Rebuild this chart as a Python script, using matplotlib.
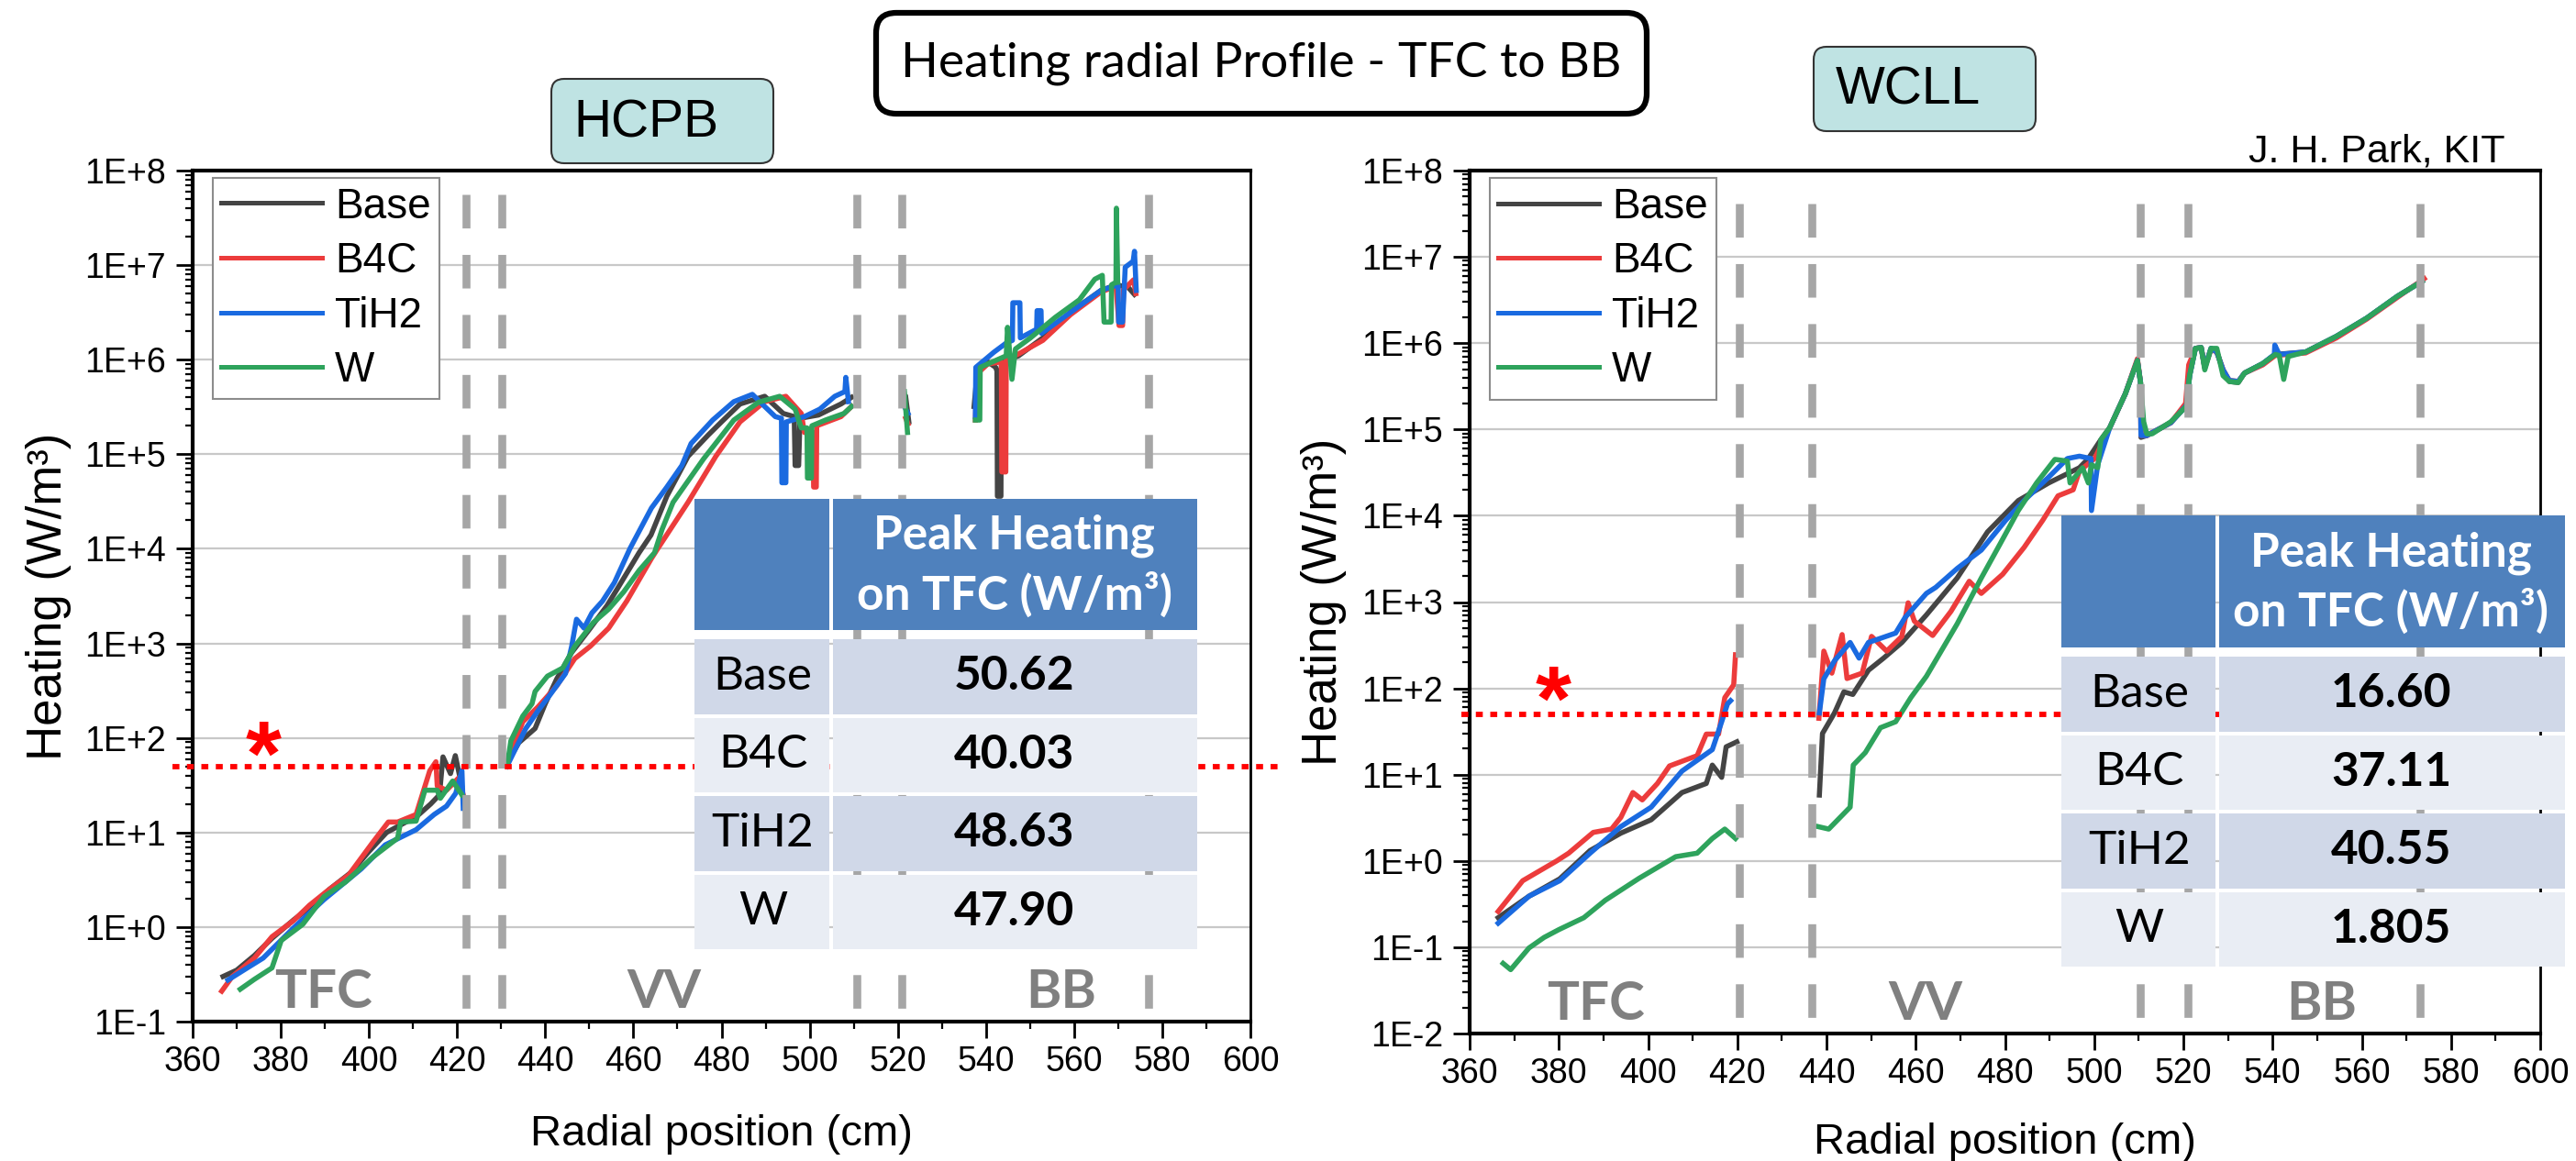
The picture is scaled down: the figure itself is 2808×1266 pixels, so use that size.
# -*- coding: utf-8 -*-
"""
Heating radial profile - TFC to BB (HCPB vs WCLL), re-drawn with matplotlib
"""

#%% packages
import numpy as np
import matplotlib
matplotlib.use("Agg")
import matplotlib.pyplot as plt
import matplotlib.transforms as mtransforms
from matplotlib.patches import Rectangle, FancyBboxPatch
from matplotlib.ticker import MultipleLocator, LogLocator, NullFormatter, FuncFormatter

nan = np.nan

# %% HCPB data (radial position cm, heating W/m3), NaN = gap between zones
hcpb_base_r = [366.9, 370, 374, 378, 383, 387, 391, 396, 400, 404, 408, 411, 414, 416, 416.8, 418.5, 419.6, 421, nan,
               431.5, 434, 437.7, 440, 442.6, 446, 450, 454, 456.4, 461.3, 464, 467.6, 472.4, 477, 480, 484.2, 489.8,
               494, 496.5, 496.7, 497.5, 497.8, 502, 507.1, 509.5, nan,
               521.8, 522.5, nan,
               537.3, 538, 540.4, 542.2, 542.5, 542.6, 543.4, 543.5, 547.4, 552.9, 559.2, 566.1, 569.6, 572.3, 573.7]
hcpb_base_q = [0.30, 0.35, 0.50, 0.76, 1.2, 1.66, 2.5, 3.8, 6.3, 10, 12.6, 15, 20, 25, 63, 42, 65, 32, nan,
               56, 89, 126, 230, 420, 800, 1400, 2500, 3800, 9100, 1.4e4, 3.6e4, 9.5e4, 1.6e5, 2.2e5, 3.4e5, 4.1e5,
               2.7e5, 2.5e5, 7.6e4, 7.6e4, 2.4e5, 2.6e5, 3.4e5, 4.0e5, nan,
               4.0e5, 2.2e5, nan,
               3.2e5, 7.1e5, 9.5e5, 8.3e5, 7.6e5, 3.6e4, 3.6e4, 9.5e5, 1.1e6, 1.7e6, 3.2e6, 5.4e6, 6.2e6, 5.8e6, 4.9e6]

hcpb_b4c_r = [366.6, 369, 374, 378, 382.9, 386.5, 390.5, 395.4, 400.9, 404.4, 406.5, 410.7, 413.8, 415.2, 415.5, 417.6,
              420.4, 421.4, nan,
              431.5, 434.9, 438.4, 442.6, 446.7, 450.2, 454.4, 458.5, 464.1, 465.5, 472.4, 478.7, 484.2, 489.8, 494.6,
              498.1, 498.8, 500.8, 500.9, 501.5, 501.6, 507.1, 509.5, nan,
              521.8, 522.3, nan,
              537.6, 538, 540.4, 543.5, 543.6, 544.5, 544.6, 547.4, 552.9, 559.2, 566.1, 569.5, 570.2, 571, 571.2, 573.5, 574]
hcpb_b4c_q = [0.21, 0.30, 0.47, 0.79, 1.17, 1.7, 2.4, 3.55, 7.9, 12.9, 12.9, 15.5, 45, 56, 31, 28, 38, 25, nan,
              56, 148, 214, 355, 690, 930, 1450, 2800, 7900, 1.0e4, 3.1e4, 9.5e4, 2.2e5, 3.6e5, 4.1e5,
              2.7e5, 1.7e5, 1.7e5, 4.5e4, 4.5e4, 2.0e5, 2.5e5, 3.2e5, nan,
              2.4e5, 2.1e5, nan,
              2.3e5, 7.1e5, 9.0e5, 9.5e5, 6.5e4, 6.5e4, 1.0e6, 1.15e6, 1.6e6, 3.0e6, 5.2e6, 6.0e6, 2.3e6, 2.3e6, 5.5e6, 7.0e6, 5.0e6]

hcpb_tih2_r = [368, 372, 376, 382.9, 389.8, 398.2, 403.7, 410.7, 414.8, 417.6, 419.7, 421.1, 421.4, nan,
               431.3, 433.5, 435.6, 438.4, 441.2, 444.6, 446, 447.1, 448.8, 450.6, 453, 455.7, 459.2, 464.1, 467.6, 471,
               473.1, 478, 482.8, 487, 489.8, 492.2, 493.6, 493.7, 494.6, 494.7, 498.8, 502.3, 505.7, 508, 508.2, 508.8, nan,
               521.8, 522.3, nan,
               537.6, 537.7, 541.8, 544.6, 546, 546.1, 547.7, 547.8, 551.5, 551.6, 552.5, 552.6, 566.1, 570, 570.1, 571,
               571.6, 573.4, 573.7, 574.1]
hcpb_tih2_q = [0.275, 0.36, 0.47, 0.98, 1.95, 4.1, 7.4, 10.7, 15.5, 19, 26, 45, 18, nan,
               50, 81, 126, 195, 290, 480, 930, 1800, 1450, 2100, 2800, 4400, 1.0e4, 2.7e4, 4.5e4, 7.6e4,
               1.3e5, 2.3e5, 3.6e5, 4.3e5, 3.2e5, 2.5e5, 2.4e5, 5.0e4, 5.0e4, 2.2e5, 2.5e5, 3.0e5, 4.1e5, 4.6e5, 6.5e5, 3.6e5, nan,
               3.0e5, 2.7e5, nan,
               2.5e5, 8.3e5, 1.2e6, 1.5e6, 1.6e6, 4.0e6, 4.0e6, 1.7e6, 2.1e6, 3.3e6, 3.3e6, 1.9e6, 5.4e6, 6.2e6, 2.5e6, 2.5e6,
               9.5e6, 1.1e7, 1.4e7, 5.4e6]

hcpb_w_r = [370.8, 374, 378, 380.1, 385, 389.8, 394.7, 400.9, 406.5, 407.2, 410.7, 412.7, 415.5, 416.2, 419, 421.1, nan,
            431.5, 432.2, 434.9, 437, 437.7, 440.5, 444, 446.7, 450.9, 454.4, 457.8, 461.3, 464.8, 466.5, 469, 475.9,
            482.8, 488.4, 493.2, 496.7, 498.1, 499.4, 499.5, 500.4, 500.5, 503.6, 507.8, 509.5, nan,
            521.5, 522.2, nan,
            537.6, 538.6, 538.7, 544.6, 544.9, 545.9, 546.7, 550.1, 555.7, 561.2, 564.7, 566.4, 566.8, 568.4, 568.5,
            569.5, 569.6, 569.9]
hcpb_w_q = [0.22, 0.28, 0.37, 0.72, 1.07, 2.1, 3.0, 5.5, 8.7, 12.9, 13.2, 28, 28, 23, 35, 25, nan,
            56, 93, 170, 230, 310, 450, 550, 930, 1660, 2300, 3500, 5900, 9100, 1.6e4, 3.1e4, 8.9e4,
            2.3e5, 3.55e5, 4.1e5, 3.0e5, 1.9e5, 1.9e5, 5.6e4, 5.6e4, 2.0e5, 2.3e5, 2.7e5, 3.2e5, nan,
            4.6e5, 1.7e5, nan,
            2.3e5, 2.3e5, 8.3e5, 1.1e6, 2.2e6, 6.2e5, 1.3e6, 1.7e6, 2.8e6, 4.3e6, 7.1e6, 7.8e6, 2.5e6, 2.5e6, 6.2e6,
            6.6e6, 4.0e7, 6.6e6]

# %% WCLL data
wcll_base_r = [366.4, 373.3, 380.2, 387, 393.9, 400.7, 407.6, 413.05, 414.4, 416.5, 417.5, 419.9, nan,
               438.4, 439.1, 441.8, 443.9, 445.9, 449.4, 452.8, 456.9, 462.4, 469.3, 476.1, 483, 489.8, 496.7, 498.7,
               501.5, 503.5, 507, 509.7, 510.4, 510.5, 511.8, 517.2, 520.7, 521.4, 522.7, 524, 524.8, 526.2, 527.5,
               528.9, 530.3, 532.3, 533.7, 537.8, 540.6, 547.4, 554.3, 561.1, 568, 573.5]
wcll_base_q = [0.22, 0.39, 0.62, 1.32, 2.1, 3.0, 6.2, 7.9, 12.9, 9.3, 21, 24, nan,
               5.8, 30, 52, 91, 85, 162, 224, 340, 710, 1900, 6500, 1.5e4, 2.4e4, 3.6e4, 4.6e4,
               7.6e4, 1.05e5, 2.6e5, 6.3e5, 3.5e5, 8.1e4, 8.5e4, 1.2e5, 1.9e5, 4.2e5, 8.7e5, 8.9e5, 5.2e5, 8.7e5, 7.9e5,
               4.9e5, 3.6e5, 3.5e5, 4.5e5, 5.8e5, 7.4e5, 7.9e5, 1.2e6, 1.95e6, 3.5e6, 5.2e6]

wcll_b4c_r = [366.4, 371.9, 379.5, 382.2, 387.7, 391.8, 393.9, 396.6, 398.7, 402.1, 404.8, 411, 413.05, 415.8, 417.2,
              419.2, 419.6, nan,
              438.3, 439.4, 441.2, 443.5, 444.6, 448, 450.1, 453.5, 456.9, 458.3, 459.7, 463.8, 467.9, 472, 474.7,
              479.5, 484.3, 488.5, 491.9, 495.3, 496.7, 500.1, 503.5, 507, 509.7, 510.4, 510.5, 511.8, 517.2, 520.5,
              521.2, 522.7, 524, 524.8, 526.2, 527.5, 528.9, 530.3, 532.3, 533.7, 537.8, 540.6, 547.4, 554.3, 561.1,
              568, 574]
wcll_b4c_q = [0.26, 0.59, 1.0, 1.23, 2.14, 2.34, 3.2, 6.2, 5.1, 7.9, 12.6, 16.6, 29.5, 29.5, 78, 110, 245, nan,
              45, 270, 150, 420, 130, 150, 400, 270, 400, 980, 600, 410, 780, 1740, 1260,
              2100, 4300, 8900, 1.7e4, 2.0e4, 3.3e4, 4.6e4, 1.05e5, 2.6e5, 6.6e5, 3.5e5, 8.5e4, 8.5e4, 1.2e5, 2.0e5,
              5.6e5, 8.7e5, 8.9e5, 5.2e5, 8.5e5, 7.9e5, 4.9e5, 3.7e5, 3.6e5, 4.5e5, 5.6e5, 7.2e5, 7.7e5, 1.15e6, 1.9e6,
              3.4e6, 5.6e6]

wcll_tih2_r = [366.4, 373.3, 380.2, 387, 393.9, 400.7, 407.6, 414.4, 416.5, 417.8, 418.5, nan,
               438.4, 439.4, 441.8, 445.3, 447.3, 449.4, 455.5, 457.6, 462.4, 464.5, 469.3, 474.7, 480.2, 484.3, 489.8,
               494, 496.7, 499.3, 499.4, 500.8, 503.5, 507, 509.7, 510.4, 510.5, 511.8, 517.2, 520.7, 521.4, 522.7, 524,
               524.8, 526.2, 527.5, 528.9, 530.3, 532.3, 533.7, 537.8, 540.4, 540.5, 541.5, 547.4, 554.3, 561.1, 568,
               573.5]
wcll_tih2_q = [0.19, 0.39, 0.59, 1.23, 2.5, 4.2, 11, 19.5, 41, 66, 72, nan,
               52, 129, 209, 340, 224, 340, 437, 660, 1260, 1480, 2450, 4000, 8900, 1.5e4, 2.8e4,
               4.6e4, 4.9e4, 4.6e4, 1.15e4, 3.9e4, 1.05e5, 2.6e5, 6.3e5, 3.5e5, 8.5e4, 8.5e4, 1.2e5, 1.9e5, 4.2e5, 8.7e5, 8.9e5,
               5.2e5, 8.7e5, 7.9e5, 4.9e5, 3.7e5, 3.6e5, 4.5e5, 5.8e5, 7.4e5, 9.5e5, 7.4e5, 7.9e5, 1.2e6, 1.95e6, 3.5e6,
               5.2e6]

wcll_w_r = [367.5, 369.2, 373.3, 376.7, 380, 385.6, 390.4, 398, 406.2, 411, 414.4, 417.2, 419.6, nan,
            438.1, 440.5, 445.3, 446, 448.7, 452.1, 455.5, 458.9, 462.4, 469.3, 474.7, 478.9, 483, 487.1, 491.2, 494,
            494.6, 497.4, 498.7, 499.4, 500.8, 501.5, 503.5, 507, 509.7, 510.4, 511.1, 511.8, 513, 517.2, 520.7, 521.4,
            522.7, 524, 524.8, 526.2, 527.5, 528.9, 530.3, 532.3, 533.7, 537.8, 540.6, 541.5, 542.5, 543.5, 547.4,
            554.3, 561.1, 568, 573.5]
wcll_w_q = [0.065, 0.055, 0.098, 0.13, 0.16, 0.22, 0.35, 0.63, 1.12, 1.23, 1.82, 2.34, 1.82, nan,
            2.5, 2.34, 4.2, 12.9, 18, 35, 41, 78, 138, 560, 1900, 4700, 1.15e4, 2.4e4, 4.5e4, 4.3e4,
            2.4e4, 3.6e4, 2.4e4, 3.9e4, 3.6e4, 7.6e4, 1.05e5, 2.6e5, 6.3e5, 3.5e5, 1.23e5, 8.9e4, 8.9e4, 1.23e5, 1.86e5, 4.2e5,
            8.7e5, 8.9e5, 4.9e5, 8.7e5, 8.7e5, 4.2e5, 3.6e5, 3.5e5, 4.5e5, 5.8e5, 7.4e5, 7.2e5, 3.8e5, 7.0e5, 7.9e5,
            1.2e6, 1.95e6, 3.5e6, 5.2e6]

# %% labels, zone borders, table values
cases = ["Base", "B4C", "TiH2", "W"]
colors = ["#444444", "#ec3c3c", "#1a6ae0", "#2ea35c"]
hcpb_borders = [422, 430.2, 510.8, 521, 576.8]
wcll_borders = [420.4, 436.7, 510.4, 521, 573]
zones = ["TFC", "VV", "BB"]
hcpb_zone_x = [389.6, 467, 557]
wcll_zone_x = [388.2, 462.2, 551]
limit = 50  # W/m3 limit line
hcpb_peak = ["50.62", "40.03", "48.63", "47.90"]
wcll_peak = ["16.60", "37.11", "40.55", "1.805"]

# %% figure
plt.rcParams["font.family"] = ["Liberation Sans", "DejaVu Sans"]
W, H = 2808, 1266
fig = plt.figure(figsize=(W / 100, H / 100), dpi=100)

ax1 = fig.add_axes([210 / W, (H - 1114) / H, 1153 / W, 928 / H])
ax2 = fig.add_axes([1602 / W, (H - 1127) / H, 1167 / W, 941 / H])


def setup(ax, ymin, series, borders, dash_top, zone_x, star, line_x, xlab_y):
    for (r, q), lab, c in zip(series, cases, colors):
        ax.plot(r, q, color=c, lw=4, label=lab, zorder=2)
    ax.set_yscale("log")
    ax.set_xlim(360, 600)
    ax.set_ylim(ymin, 1e8)
    ax.xaxis.set_major_locator(MultipleLocator(20))
    ax.xaxis.set_minor_locator(MultipleLocator(10))
    ax.yaxis.set_major_locator(LogLocator(base=10, numticks=20))
    ax.yaxis.set_minor_locator(LogLocator(base=10, subs=np.arange(2, 10), numticks=20))
    ax.yaxis.set_minor_formatter(NullFormatter())
    ax.yaxis.set_major_formatter(FuncFormatter(lambda v, p: "1E%+d" % int(round(np.log10(v)))))
    ax.tick_params(axis="both", which="major", direction="out", length=13, width=2, labelsize=27)
    ax.tick_params(axis="both", which="minor", direction="out", length=6, width=1.6)
    ax.tick_params(axis="y", which="major", pad=8)
    ax.tick_params(axis="x", which="major", pad=6)
    ax.grid(axis="y", which="major", color="#c8c8c8", lw=1.6)
    ax.set_axisbelow(True)
    for s in ["left", "bottom", "top"]:
        ax.spines[s].set_linewidth(3)
    ax.spines["right"].set_linewidth(2)

    # zone borders
    for b in borders:
        ax.plot([b, b], [dash_top, ymin], color="#a6a6a6", lw=6.2, dashes=(4.25, 3.35), zorder=3)
    # limit line
    ax.plot(line_x, [limit, limit], color="red", lw=4.2, dashes=(1.3, 1.4), zorder=4, clip_on=False)
    ax.text(star[0], star[1], "*", color="red", fontsize=72, fontweight="bold", ha="center", va="center", zorder=4)

    trans = mtransforms.blended_transform_factory(ax.transData, ax.transAxes)
    for z, zx in zip(zones, zone_x):
        ax.text(zx, 0.034, z, transform=trans, ha="center", va="center", fontsize=42,
                fontweight="bold", color="#808080", family=["Lato", "DejaVu Sans"], zorder=3)

    ax.set_xlabel("Radial position (cm)", fontsize=34, va="center")
    ax.set_ylabel("Heating (W/m³)", fontsize=38, va="center")
    ax.xaxis.set_label_coords(0.5, xlab_y)
    ax.yaxis.set_label_coords(-0.136, 0.5)

    leg = ax.legend(loc="upper left", bbox_to_anchor=(0.019, 0.991), borderaxespad=0, fontsize=33,
                    handlelength=2.4, handletextpad=0.3, labelspacing=0.34, borderpad=0.2,
                    fancybox=False, framealpha=1, edgecolor="#8c8c8c")
    leg.get_frame().set_linewidth(1.5)
    leg.set_zorder(6)
    for h in leg.get_lines():
        h.set_linewidth(3.6)


setup(ax1, 0.1, [(hcpb_base_r, hcpb_base_q), (hcpb_b4c_r, hcpb_b4c_q), (hcpb_tih2_r, hcpb_tih2_q), (hcpb_w_r, hcpb_w_q)],
      hcpb_borders, 5.6e7, hcpb_zone_x, (376.1, 57), [355.5, 606.3], -0.1325)
setup(ax2, 0.01, [(wcll_base_r, wcll_base_q), (wcll_b4c_r, wcll_b4c_q), (wcll_tih2_r, wcll_tih2_q), (wcll_w_r, wcll_w_q)],
      wcll_borders, 4.1e7, wcll_zone_x, (378.8, 63), [358.1, 600], -0.126)

# %% overlay in pixel coordinates for boxes and tables
ov = fig.add_axes([0, 0, 1, 1], zorder=10)
ov.set_xlim(0, W)
ov.set_ylim(H, 0)
ov.axis("off")

cal = ["Lato", "DejaVu Sans"]

ov.add_patch(FancyBboxPatch((955, 14), 840, 110, boxstyle="round,pad=0,rounding_size=22",
                            lw=4.5, ec="black", fc="white"))
ov.text(1375, 69, "Heating radial Profile - TFC to BB", ha="center", va="center", fontsize=38.5, family=cal)

for (bx, by), name in zip([(601, 86), (1977, 51)], ["HCPB", "WCLL"]):
    ov.add_patch(FancyBboxPatch((bx, by), 242, 92, boxstyle="round,pad=0,rounding_size=14",
                                lw=1.5, ec="#333333", fc="#bfe3e3"))
    ov.text(bx + 24, by + 48, name, ha="left", va="center", fontsize=41)

ov.text(2731, 165, "J. H. Park, KIT", ha="right", va="center", fontsize=31)


def table(x0, xs, x1, yh0, yh1, yr0, rh, vals):
    g = 2
    head = "#4f81bd"
    ov.add_patch(Rectangle((x0, yh0), xs - x0 - g, yh1 - yh0, fc=head, ec="none"))
    ov.add_patch(Rectangle((xs + g, yh0), x1 - xs - g, yh1 - yh0, fc=head, ec="none"))
    cx2 = (xs + x1) / 2
    cy = (yh0 + yh1) / 2
    ov.text(cx2, cy - 31, "Peak Heating", ha="center", va="center", fontsize=37, fontweight="bold",
            color="white", family=cal)
    ov.text(cx2, cy + 33, "on TFC (W/m³)", ha="center", va="center", fontsize=37, fontweight="bold",
            color="white", family=cal)
    for i, (lab, v) in enumerate(zip(cases, vals)):
        fc = "#d0d8e8" if i % 2 == 0 else "#e9edf4"
        y = yr0 + i * rh
        ov.add_patch(Rectangle((x0, y + g), xs - x0 - g, rh - 2 * g, fc=fc, ec="none"))
        ov.add_patch(Rectangle((xs + g, y + g), x1 - xs - g, rh - 2 * g, fc=fc, ec="none"))
        ov.text((x0 + xs) / 2, y + rh / 2, lab, ha="center", va="center", fontsize=37, family=cal)
        ov.text(cx2, y + rh / 2, v, ha="center", va="center", fontsize=37, fontweight="bold", family=cal)


table(757, 906, 1305, 544, 687, 695, 85.5, hcpb_peak)
table(2247, 2417, 2796, 562, 706, 714, 85.5, wcll_peak)

fig.savefig("out.png", dpi=100)
